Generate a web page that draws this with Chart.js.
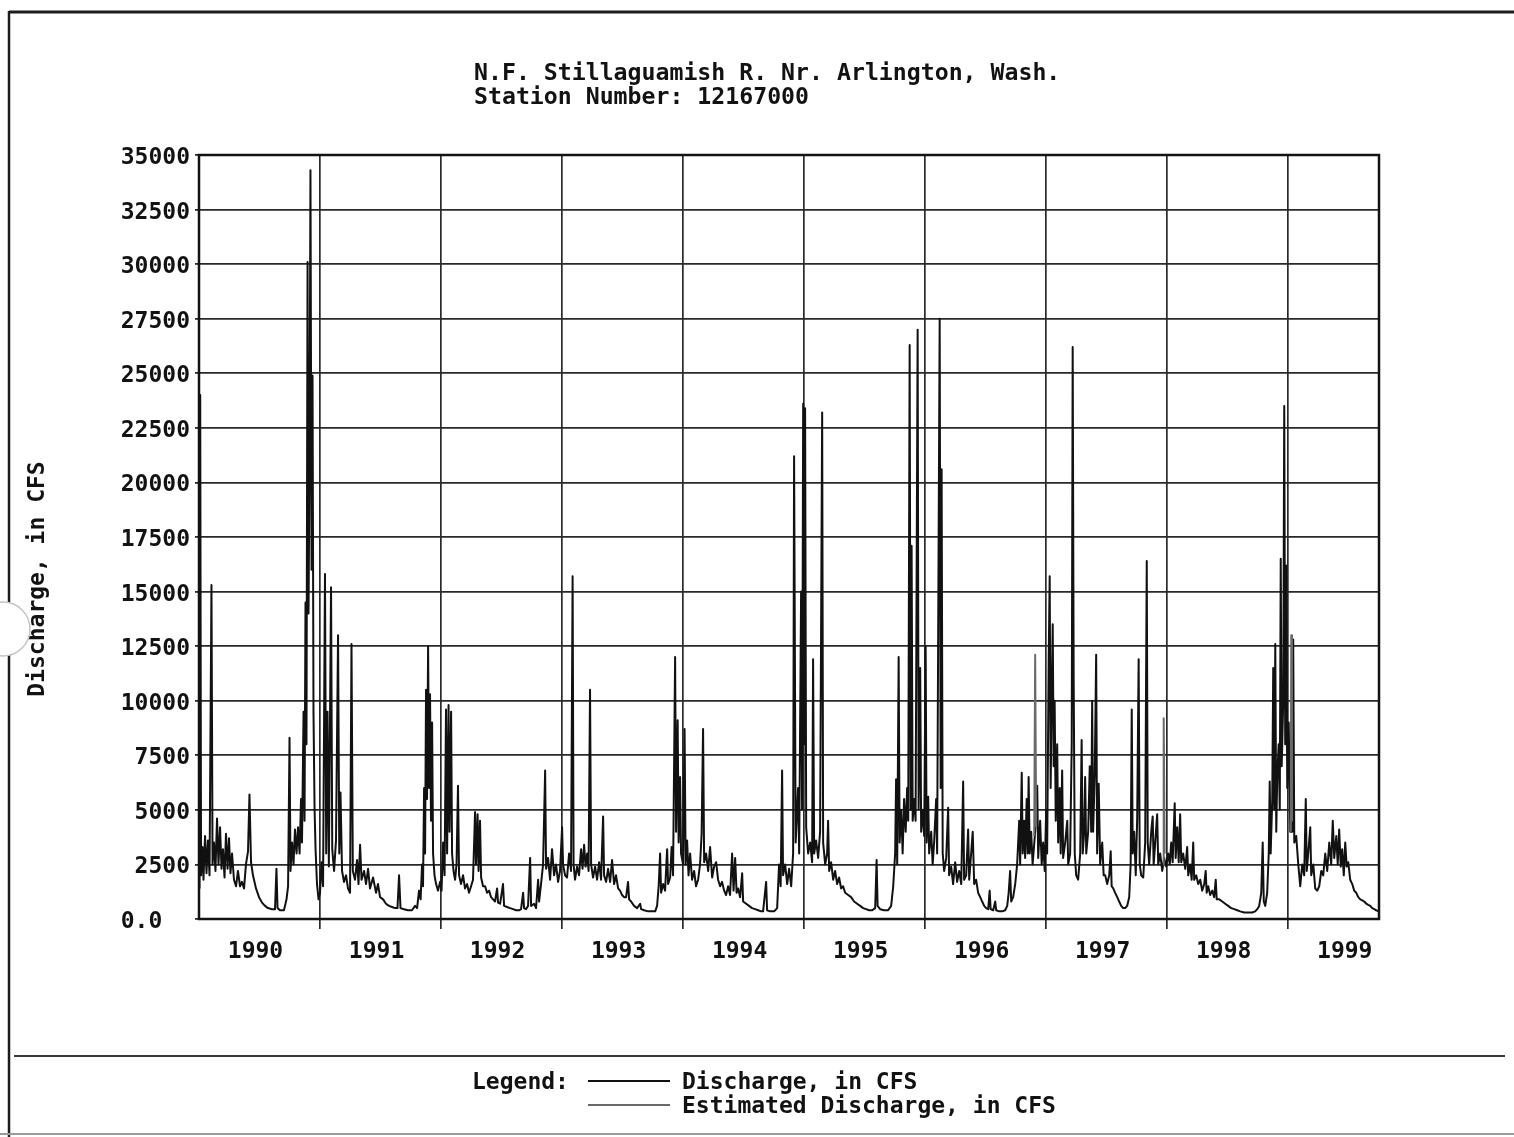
<!DOCTYPE html>
<html><head><meta charset="utf-8">
<script src="https://cdn.jsdelivr.net/npm/chart.js@4.4.0/dist/chart.umd.min.js"></script>
<style>html,body{margin:0;padding:0;background:#fff;}#wrap{position:relative;width:1514px;height:1137px;}canvas{display:block;}</style>
</head><body><div id="wrap"><canvas id="c" width="1514" height="1137"></canvas></div>
<script>
const titleLines = ['N.F. Stillaguamish R. Nr. Arlington, Wash.', 'Station Number: 12167000'];
const yAxisTitle = 'Discharge, in CFS';
const legendTitle = 'Legend:';
const seriesLabels = ['Discharge, in CFS', 'Estimated Discharge, in CFS'];
const yearLabels = ['1990','1991','1992','1993','1994','1995','1996','1997','1998','1999'];
const yMin = 0, yMax = 35000, yStep = 2500;
const xMin = 1990, xMax = 1999.75;

// [decimal year, discharge cfs]
const flow1990 = [[1990.004,1400],[1990.010,24000],[1990.017,2000],[1990.029,3300],[1990.037,1800],[1990.050,3800],[1990.062,2100],[1990.074,3600],[1990.087,2000],[1990.103,15300],[1990.112,2500],[1990.124,3500],[1990.136,2200],[1990.149,4600],[1990.161,2500],[1990.174,4200],[1990.186,2300],[1990.198,3200],[1990.211,1900],[1990.223,3900],[1990.236,2300],[1990.248,3700],[1990.260,2100],[1990.273,3000],[1990.289,1800],[1990.306,1500],[1990.322,2200],[1990.339,1500],[1990.355,1700],[1990.372,1400],[1990.388,2500],[1990.405,3100],[1990.417,5700],[1990.430,2600],[1990.446,2000],[1990.471,1400],[1990.496,1000],[1990.521,750],[1990.545,600],[1990.570,500],[1990.603,450],[1990.628,450],[1990.640,2300],[1990.649,500],[1990.669,400],[1990.702,400],[1990.723,900],[1990.736,1500],[1990.748,8300],[1990.756,2200],[1990.769,3500],[1990.781,2500],[1990.793,4100],[1990.806,3000],[1990.818,4200],[1990.831,3000],[1990.843,5500],[1990.851,3500],[1990.864,9500],[1990.872,4500],[1990.880,14500],[1990.888,8000],[1990.897,30100],[1990.905,14000],[1990.913,21000],[1990.921,34300],[1990.930,16000],[1990.938,24900],[1990.946,9500],[1990.955,5000],[1990.963,3200],[1990.975,1600],[1990.988,900]];
const flow1991 = [[1991.000,1200],[1991.012,2600],[1991.025,1500],[1991.041,15800],[1991.051,3000],[1991.062,9500],[1991.073,2400],[1991.091,15200],[1991.101,3200],[1991.116,2200],[1991.132,3600],[1991.149,13000],[1991.159,3000],[1991.169,5800],[1991.182,2200],[1991.198,1700],[1991.215,2000],[1991.231,1400],[1991.248,1200],[1991.260,12600],[1991.271,2200],[1991.289,1800],[1991.306,2700],[1991.318,1600],[1991.331,3400],[1991.343,1800],[1991.364,2200],[1991.380,1600],[1991.397,2300],[1991.413,1400],[1991.438,1900],[1991.463,1200],[1991.479,1600],[1991.496,1000],[1991.521,900],[1991.545,700],[1991.570,600],[1991.595,550],[1991.620,500],[1991.640,500],[1991.653,2000],[1991.665,500],[1991.694,450],[1991.727,400],[1991.760,400],[1991.785,600],[1991.802,500],[1991.818,1300],[1991.831,900],[1991.843,2500],[1991.851,1500],[1991.860,6000],[1991.868,3000],[1991.876,10500],[1991.884,5500],[1991.893,12500],[1991.901,6000],[1991.909,10300],[1991.917,4500],[1991.926,9000],[1991.934,3000],[1991.946,2000],[1991.959,1600],[1991.975,1300],[1991.992,1700]];
const flow1992 = [[1992.004,1300],[1992.017,3500],[1992.029,2000],[1992.041,9600],[1992.050,3000],[1992.062,9800],[1992.070,4000],[1992.083,9500],[1992.091,3000],[1992.103,2200],[1992.116,1800],[1992.128,2500],[1992.140,6100],[1992.149,2000],[1992.165,1600],[1992.182,2000],[1992.198,1400],[1992.215,1600],[1992.231,1200],[1992.248,1500],[1992.264,1800],[1992.281,4900],[1992.289,2500],[1992.302,4800],[1992.310,2200],[1992.322,4500],[1992.331,1900],[1992.347,1500],[1992.364,1500],[1992.380,1200],[1992.397,1300],[1992.413,1000],[1992.430,900],[1992.446,800],[1992.463,1400],[1992.471,750],[1992.488,700],[1992.512,1600],[1992.521,600],[1992.545,550],[1992.570,500],[1992.595,450],[1992.620,400],[1992.645,400],[1992.661,450],[1992.678,1200],[1992.686,500],[1992.702,450],[1992.719,600],[1992.736,2800],[1992.744,600],[1992.769,700],[1992.785,500],[1992.802,1800],[1992.810,800],[1992.826,1600],[1992.843,2500],[1992.860,6800],[1992.868,2300],[1992.884,2800],[1992.901,1800],[1992.917,3200],[1992.934,2000],[1992.950,2500],[1992.967,1700],[1992.983,2200]];
const flow1993 = [[1993.000,4200],[1993.008,2500],[1993.025,2000],[1993.041,1900],[1993.058,3000],[1993.074,2200],[1993.087,15700],[1993.095,2500],[1993.107,1800],[1993.124,2400],[1993.140,2000],[1993.157,3200],[1993.169,2300],[1993.182,3400],[1993.194,2400],[1993.207,3000],[1993.219,2200],[1993.231,10500],[1993.240,2500],[1993.256,1900],[1993.273,2400],[1993.289,1800],[1993.306,2600],[1993.322,1800],[1993.339,4700],[1993.347,2000],[1993.364,1700],[1993.380,2300],[1993.397,1700],[1993.413,2700],[1993.430,1600],[1993.446,2000],[1993.463,1400],[1993.479,1300],[1993.496,1100],[1993.512,1000],[1993.529,1000],[1993.545,1700],[1993.554,900],[1993.570,800],[1993.595,600],[1993.620,500],[1993.645,700],[1993.653,450],[1993.678,400],[1993.711,350],[1993.744,350],[1993.769,350],[1993.785,600],[1993.798,1500],[1993.810,3000],[1993.818,1200],[1993.835,1600],[1993.851,1300],[1993.868,3200],[1993.876,1600],[1993.893,1900],[1993.905,3300],[1993.917,2000],[1993.934,12000],[1993.942,4000],[1993.955,9100],[1993.963,3500],[1993.975,6500],[1993.983,3000]];
const flow1994 = [[1994.000,2500],[1994.012,8700],[1994.021,2500],[1994.033,3600],[1994.045,2000],[1994.058,3000],[1994.074,1800],[1994.091,2200],[1994.107,1500],[1994.124,1800],[1994.140,2500],[1994.153,3900],[1994.165,8700],[1994.174,2600],[1994.190,3000],[1994.207,2200],[1994.223,3300],[1994.240,1900],[1994.256,2400],[1994.273,2600],[1994.289,1800],[1994.306,1500],[1994.322,1700],[1994.339,1300],[1994.355,1100],[1994.372,1500],[1994.388,1100],[1994.405,3000],[1994.417,1300],[1994.430,2800],[1994.442,1200],[1994.455,1400],[1994.471,1000],[1994.488,2100],[1994.496,800],[1994.521,700],[1994.545,600],[1994.570,500],[1994.595,450],[1994.620,400],[1994.645,350],[1994.661,350],[1994.686,1700],[1994.694,400],[1994.719,350],[1994.752,350],[1994.777,500],[1994.793,2500],[1994.806,1500],[1994.818,6800],[1994.826,2000],[1994.843,2500],[1994.860,1600],[1994.876,2300],[1994.893,1500],[1994.909,3000],[1994.917,21200],[1994.930,3500],[1994.950,6000],[1994.959,3000],[1994.975,15000],[1994.983,5000],[1994.992,23600]];
const flow1995 = [[1995.000,8000],[1995.008,23400],[1995.017,4200],[1995.033,3000],[1995.050,3500],[1995.066,2600],[1995.074,11900],[1995.083,3000],[1995.099,3600],[1995.116,2800],[1995.132,4000],[1995.149,23200],[1995.157,3500],[1995.174,2500],[1995.190,3000],[1995.198,4500],[1995.207,2200],[1995.223,2600],[1995.240,1800],[1995.256,2200],[1995.273,1600],[1995.289,1900],[1995.306,1400],[1995.322,1500],[1995.339,1200],[1995.364,1100],[1995.388,1000],[1995.413,800],[1995.438,700],[1995.463,600],[1995.488,500],[1995.512,450],[1995.537,400],[1995.562,400],[1995.587,500],[1995.599,2700],[1995.607,600],[1995.628,450],[1995.661,400],[1995.694,400],[1995.719,600],[1995.736,1500],[1995.752,3000],[1995.760,6400],[1995.769,2500],[1995.781,12000],[1995.789,3500],[1995.802,5000],[1995.814,3000],[1995.826,5500],[1995.839,4000],[1995.851,6000],[1995.860,4500],[1995.872,26300],[1995.880,5000],[1995.888,17100],[1995.897,4500],[1995.909,5500],[1995.921,4500],[1995.938,27000],[1995.946,5000],[1995.959,11500],[1995.967,4000],[1995.979,5000],[1995.992,3800]];
const flow1996 = [[1996.004,12500],[1996.012,3500],[1996.025,5600],[1996.033,3000],[1996.050,4000],[1996.062,2500],[1996.074,3500],[1996.091,5500],[1996.099,3000],[1996.120,27500],[1996.128,6000],[1996.136,20600],[1996.145,3000],[1996.157,2200],[1996.174,2800],[1996.190,5100],[1996.198,2000],[1996.215,2400],[1996.231,1600],[1996.248,2600],[1996.264,1700],[1996.281,2200],[1996.298,1600],[1996.314,6300],[1996.322,1800],[1996.339,2000],[1996.355,4100],[1996.364,1800],[1996.380,3000],[1996.393,4000],[1996.405,1600],[1996.421,1800],[1996.438,1200],[1996.455,1000],[1996.471,800],[1996.488,600],[1996.504,500],[1996.521,450],[1996.533,1300],[1996.541,450],[1996.562,400],[1996.579,800],[1996.587,400],[1996.612,350],[1996.636,350],[1996.661,400],[1996.678,600],[1996.690,1200],[1996.702,2200],[1996.711,800],[1996.727,1000],[1996.744,1600],[1996.760,2500],[1996.777,4500],[1996.785,2500],[1996.798,6700],[1996.806,3000],[1996.818,4500],[1996.826,2800],[1996.839,5500],[1996.847,3000],[1996.855,6500],[1996.864,3000],[1996.876,4000],[1996.888,2500],[1996.909,4000],[1996.926,6100],[1996.934,2800],[1996.950,4500],[1996.963,2500],[1996.975,3500],[1996.988,2200]];
const flow1997 = [[1997.000,5000],[1997.008,3000],[1997.021,12000],[1997.029,15700],[1997.037,6000],[1997.045,10000],[1997.054,13500],[1997.062,7000],[1997.070,10000],[1997.079,4500],[1997.091,8000],[1997.099,3500],[1997.112,6000],[1997.120,3000],[1997.132,6800],[1997.140,2800],[1997.157,3500],[1997.174,4500],[1997.182,2500],[1997.198,3000],[1997.211,8000],[1997.219,26200],[1997.227,11100],[1997.236,3000],[1997.248,2000],[1997.264,1800],[1997.281,3000],[1997.293,8200],[1997.302,3000],[1997.314,4000],[1997.322,6500],[1997.331,3000],[1997.347,4000],[1997.360,7000],[1997.372,4000],[1997.380,10000],[1997.388,4000],[1997.401,6500],[1997.413,12100],[1997.421,3000],[1997.434,6200],[1997.446,2500],[1997.463,3500],[1997.475,2000],[1997.488,2000],[1997.504,1600],[1997.521,2000],[1997.533,3100],[1997.541,1500],[1997.554,1400],[1997.570,1200],[1997.587,1000],[1997.603,800],[1997.620,600],[1997.636,500],[1997.653,500],[1997.669,600],[1997.686,1000],[1997.698,2500],[1997.707,9600],[1997.715,3000],[1997.727,4000],[1997.740,2000],[1997.752,4600],[1997.764,11900],[1997.773,2500],[1997.785,2000],[1997.802,1900],[1997.818,3500],[1997.831,16400],[1997.839,3500],[1997.851,2500],[1997.868,4000],[1997.880,4700],[1997.888,2500],[1997.901,3500],[1997.917,4800],[1997.926,2500],[1997.942,3000],[1997.959,2200],[1997.975,2800],[1997.992,2400]];
const flow1998 = [[1998.008,3000],[1998.021,2500],[1998.033,3500],[1998.045,2600],[1998.062,5300],[1998.070,2800],[1998.083,4200],[1998.095,2600],[1998.107,4800],[1998.116,2600],[1998.132,3000],[1998.149,2300],[1998.165,3300],[1998.174,2000],[1998.190,2500],[1998.202,1800],[1998.215,3500],[1998.223,1800],[1998.240,2000],[1998.256,1600],[1998.273,1800],[1998.289,1300],[1998.306,1600],[1998.318,2200],[1998.326,1200],[1998.339,1500],[1998.355,1100],[1998.372,1300],[1998.388,1000],[1998.401,1800],[1998.409,900],[1998.430,900],[1998.455,800],[1998.479,700],[1998.504,600],[1998.529,500],[1998.554,450],[1998.579,400],[1998.603,350],[1998.636,300],[1998.669,300],[1998.702,300],[1998.727,350],[1998.744,450],[1998.760,600],[1998.777,1200],[1998.789,3500],[1998.798,800],[1998.810,600],[1998.826,1200],[1998.839,3000],[1998.847,6300],[1998.855,3000],[1998.868,5500],[1998.876,11500],[1998.884,5000],[1998.893,12600],[1998.901,4000],[1998.909,6500],[1998.921,8000],[1998.930,5000],[1998.938,16500],[1998.946,7000],[1998.959,10000],[1998.967,23500],[1998.975,8000],[1998.983,16200],[1998.992,6000]];
const flow1999 = [[1999.004,9000],[1999.017,4000],[1999.033,4000],[1999.041,12800],[1999.050,3500],[1999.066,3800],[1999.083,2500],[1999.099,1500],[1999.116,2500],[1999.132,2000],[1999.145,5500],[1999.153,2200],[1999.165,3000],[1999.182,4200],[1999.190,2000],[1999.207,2500],[1999.223,1400],[1999.240,1300],[1999.256,1500],[1999.273,2200],[1999.289,2000],[1999.306,3000],[1999.322,2200],[1999.339,3500],[1999.355,2500],[1999.368,4500],[1999.380,2800],[1999.397,3800],[1999.409,2500],[1999.421,4100],[1999.434,2400],[1999.446,3200],[1999.459,2000],[1999.471,3500],[1999.483,2400],[1999.496,2600],[1999.512,1800],[1999.529,1600],[1999.545,1300],[1999.562,1200],[1999.579,1000],[1999.595,900],[1999.612,850],[1999.628,800],[1999.645,700],[1999.661,650],[1999.678,600],[1999.694,500],[1999.711,450],[1999.727,400],[1999.748,350]];

// estimated discharge segments
const estimated1996 = [[1996.901,3800],[1996.909,12100],[1996.917,4200]];
const estimated1997 = [[1997.967,2500],[1997.971,9200],[1997.979,3000]];
const estimated1999 = [[1999.021,4000],[1999.025,13000],[1999.031,4500]];

const FONT = '"DejaVu Sans Mono", "Liberation Mono", monospace';
const INK = '#121212';

const discharge = [flow1990, flow1991, flow1992, flow1993, flow1994, flow1995, flow1996, flow1997, flow1998, flow1999]
  .flat().map(([t, q]) => ({x: t, y: q}));
const estimated = [];
[estimated1996, estimated1997, estimated1999].forEach((seg, i) => {
  if (i > 0) estimated.push({x: seg[0][0] - 0.001, y: null});
  seg.forEach(([t, q]) => estimated.push({x: t, y: q}));
});

const yearTicks = [];
yearLabels.forEach((lbl) => {
  const y0 = Number(lbl);
  if (y0 > xMin) yearTicks.push({value: y0, lbl: ''});
  yearTicks.push({value: y0 + 0.5, lbl: lbl});
});

function line(ctx, x1, y1, x2, y2) { ctx.beginPath(); ctx.moveTo(x1, y1); ctx.lineTo(x2, y2); ctx.stroke(); }

const decor = {
  id: 'decor',
  afterDraw(chart) {
    const ctx = chart.ctx, a = chart.chartArea;
    ctx.save();
    ctx.strokeStyle = INK; ctx.lineWidth = 2.5;
    ctx.strokeRect(a.left, a.top, a.right - a.left, a.bottom - a.top);
    // page frame
    ctx.strokeStyle = '#1c1c1c'; ctx.lineWidth = 3; line(ctx, 9, 12, 1514, 12);
    ctx.lineWidth = 2.5; line(ctx, 9, 11, 9, 1137);
    ctx.strokeStyle = '#3a3a3a'; ctx.lineWidth = 2; line(ctx, 14, 1056, 1505, 1056);
    ctx.strokeStyle = '#9a9a9a'; line(ctx, 0, 1134, 1514, 1134);
    // title
    ctx.fillStyle = INK; ctx.textBaseline = 'middle'; ctx.textAlign = 'left';
    ctx.font = 'bold 23.2px ' + FONT;
    ctx.fillText(titleLines[0], 474, 74);
    ctx.fillText(titleLines[1], 474, 98);
    ctx.font = 'bold 23px ' + FONT;
    // y axis title
    ctx.save(); ctx.translate(38, 579); ctx.rotate(-Math.PI / 2); ctx.textAlign = 'center';
    ctx.fillText(yAxisTitle, 0, 0); ctx.restore();
    // legend
    ctx.textAlign = 'left';
    ctx.fillText(legendTitle, 472, 1083);
    chart.data.datasets.forEach((ds, i) => {
      const y = 1083 + i * 24;
      ctx.strokeStyle = ds.borderColor; ctx.lineWidth = 2; line(ctx, 588, y - 2, 670, y - 2);
      ctx.fillStyle = INK; ctx.fillText(ds.label, 682, y);
    });
    // punched hole of the scanned sheet
    ctx.beginPath(); ctx.arc(3, 629, 27, 0, Math.PI * 2);
    ctx.fillStyle = '#fff'; ctx.fill(); ctx.strokeStyle = '#c4c4c4'; ctx.lineWidth = 1.5; ctx.stroke();
    ctx.restore();
  }
};

Chart.defaults.font.family = FONT;
Chart.defaults.font.weight = 'bold';
Chart.defaults.font.size = 23;
Chart.defaults.color = INK;

new Chart(document.getElementById('c'), {
  type: 'line',
  data: {
    datasets: [
      {label: seriesLabels[0], data: discharge, borderColor: '#111111', borderWidth: 2, pointRadius: 0, tension: 0, borderJoinStyle: 'round', order: 1},
      {label: seriesLabels[1], data: estimated, borderColor: '#6a6a6a', borderWidth: 2, pointRadius: 0, tension: 0, borderJoinStyle: 'round', spanGaps: false, order: 0}
    ]
  },
  options: {
    responsive: false, animation: false, devicePixelRatio: 1, parsing: false,
    layout: {padding: {top: 155, right: 135, bottom: 0, left: 0}},
    plugins: {legend: {display: false}, title: {display: false}, tooltip: {enabled: false}},
    scales: {
      x: {
        type: 'linear', min: xMin, max: xMax,
        afterBuildTicks: (s) => { s.ticks = yearTicks.map(t => ({value: t.value, lbl: t.lbl})); },
        afterFit: (s) => { s.height = 218; },
        ticks: {autoSkip: false, maxRotation: 0, minRotation: 0, padding: 9, labelOffset: -4,
          callback: (v, i, ticks) => ticks[i].lbl},
        grid: {color: (c) => (c.tick && Number.isInteger(c.tick.value)) ? '#2a2a2a' : 'rgba(0,0,0,0)', lineWidth: 1.7, tickLength: 10},
        border: {display: false}
      },
      y: {
        type: 'linear', min: yMin, max: yMax,
        afterFit: (s) => { s.width = 199; },
        ticks: {stepSize: yStep, padding: 5, labelOffset: 3, callback: (v) => v === 0 ? '0.0  ' : String(v)},
        grid: {color: '#2a2a2a', lineWidth: 1.8, tickLength: 4},
        border: {display: false}
      }
    }
  },
  plugins: [decor]
});
</script>
</body></html>
